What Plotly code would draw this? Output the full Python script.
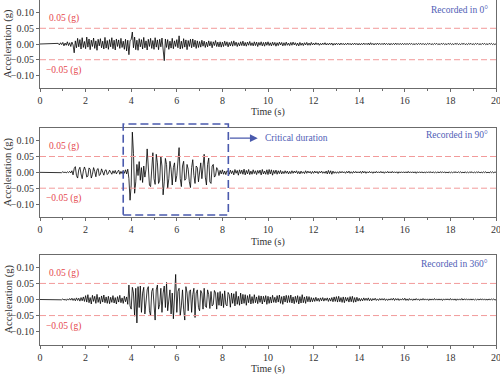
import numpy as np
import plotly.graph_objects as go

# ---------------- data (acceleration in milli-g, sampled every 0.05 s) ----------------
DT = 0.05
acc_0deg_mg = [
    0,0,0,0,0,0,0,0,0,0,0,0,0,0,0,0,2,-3,4,-2,
    5,-6,3,-4,7,-5,4,-8,6,-3,-28,10,-12,18,-9,14,-16,20,-11,8,
    -15,22,-10,16,-18,12,-8,19,-14,10,-20,15,-6,17,-12,9,-16,21,-13,11,
    -17,14,-9,20,-15,12,-19,16,-8,13,-14,18,-11,9,-17,15,-22,12,-34,10,
    15,38,-12,22,-18,12,-20,17,-9,14,-16,21,-12,10,-19,15,-8,18,-14,11,
    -17,20,-10,13,-18,15,-9,19,-12,-53,16,-11,14,-17,9,-13,18,-15,10,-8,
    14,-12,26,-16,9,-14,17,-10,13,-18,11,-8,15,-12,16,-9,12,-14,10,-11,
    8,-10,12,-7,9,-11,6,-9,10,-6,8,-12,7,-5,11,-8,6,-9,7,-10,
    6,-8,9,-5,7,-9,5,-6,8,-7,10,-5,6,-8,4,-6,7,-5,9,-6,
    5,-7,6,-4,8,-5,4,-6,7,-5,6,-8,5,-4,7,-6,5,-7,6,-4,
    7,-5,4,-6,6,-4,5,-7,4,-5,6,-3,5,-6,4,-5,6,-4,3,-5,
    5,-4,6,-3,4,-5,3,-6,5,-4,3,-5,4,-3,5,-4,3,-4,5,-3,
    3,-3,4,-2,3,-4,2,-3,3,-2,4,-3,2,-3,3,-2,3,-4,2,-3,
    3,-2,2,-3,3,-2,2,-3,2,-2,3,-2,2,-3,2,-2,3,-2,2,-3,
    2,-3,2,-2,3,-2,2,-2,3,-3,4,-2,2,-3,2,-2,3,-2,2,-2,
    2,-2,3,-2,2,-2,2,-3,2,-2,2,-2,3,-2,2,-2,2,-2,2,-2,
    2,-2,2,-2,2,-1,2,-2,1,-2,2,-2,2,-1,2,-2,2,-2,1,-2,
    2,-1,2,-2,1,-2,2,-1,2,-2,1,-2,2,-1,2,-2,1,-2,2,-1,
    2,-2,1,-2,2,-1,2,-2,1,-2,2,-1,2,-2,1,-2,2,-1,2,-2,
    1,-2,2,-1,2,-2,1,-2,2,-1,2,-2,1,-2,2,-1,2,-2,1,-2,
    1,
]
acc_90deg_mg = [
    0,0,0,0,0,0,0,0,0,0,0,0,0,0,0,0,0,0,1,-1,
    2,-1,1,-2,2,-1,3,-2,5,-8,12,18,-10,-18,8,16,-5,-20,4,17,
    6,-15,-12,14,10,-18,-6,15,3,-14,9,12,-10,-6,11,2,-9,6,8,-7,
    -3,7,2,-6,5,-3,6,-5,2,7,-6,3,-4,6,-3,8,-5,10,-20,-88,
    -40,127,60,-66,-30,25,-10,34,-25,15,-32,20,-15,10,74,20,-40,-45,30,62,
    -20,-38,57,30,-35,-25,50,20,-71,-30,44,25,-50,-20,35,10,-40,15,30,-30,
    -10,40,78,-20,-45,20,35,-25,-20,25,10,-30,-48,15,40,-10,-35,20,15,-30,
    10,30,-20,15,57,-15,-40,25,45,-30,-35,20,25,-15,-10,15,8,-10,6,-5,
    8,-6,4,-7,5,3,-6,7,-4,5,-8,9,-3,6,-9,8,-4,7,-6,10,
    -8,6,-5,9,-7,4,-6,8,-4,5,-7,6,-3,7,-8,9,-5,4,-6,8,
    -7,9,-5,8,-9,6,-4,7,-6,5,-4,6,-5,3,-4,5,-3,4,-5,3,
    -4,5,-3,4,-2,5,-4,3,-5,4,-3,2,-4,5,-3,4,-2,3,-4,3,
    -3,4,-2,3,-4,3,-2,4,-3,2,-3,4,-5,6,-4,5,-6,4,-3,2,
    -3,2,-3,3,-2,3,-2,2,-3,3,-2,4,-3,2,-3,3,-2,3,-2,2,
    -2,3,-3,4,-2,3,-3,2,-2,3,-2,2,-3,2,-2,3,-2,2,-2,3,
    -2,2,-3,2,-2,3,-2,2,-2,3,-2,2,-2,2,-3,2,-2,2,-2,2,
    -2,2,-2,3,-2,2,-2,2,-2,2,-3,2,-2,2,-2,2,-2,1,-2,2,
    -2,2,-1,2,-2,2,-2,1,-2,2,-2,2,-1,2,-2,2,-2,1,-2,2,
    -2,1,-2,2,-1,2,-2,2,-1,2,-2,1,-2,2,-2,1,-2,2,-1,2,
    -2,1,-2,2,-1,2,-2,1,-2,2,-1,2,-2,1,-2,2,-1,2,-2,1,
    0,
]
acc_360deg_mg = [
    0,0,0,0,0,0,0,0,0,0,0,0,0,0,0,0,0,0,1,-1,
    2,-2,1,-3,2,-2,3,-2,4,-3,3,-4,5,-3,4,-5,6,-4,8,-6,
    12,-8,15,-10,6,-14,13,-6,10,-12,16,-9,7,-13,11,-8,14,-10,8,-12,
    10,-13,7,-9,12,-11,6,-14,9,-8,13,-10,5,-12,10,-7,8,-15,45,-20,
    -30,38,20,-52,35,-73,40,-25,42,-40,20,38,-45,-15,30,40,-35,-50,25,35,
    -20,-64,30,45,-30,-15,35,-40,20,42,-25,53,-35,-10,30,-45,20,-60,15,78,
    -40,25,35,-50,-20,30,-30,-64,40,20,-35,25,30,-40,15,35,-56,20,30,-25,
    -35,28,20,-30,35,-20,-25,30,15,-28,25,-20,-15,28,20,-30,22,-18,25,-20,
    18,-25,27,-15,-20,22,15,-24,20,-12,18,-20,25,-15,10,-18,20,-14,16,-12,
    15,-18,12,-10,16,-14,9,-12,15,-10,8,-13,12,-9,11,-14,10,-8,12,-15,
    10,-12,8,-11,13,-9,7,-10,12,-8,14,-12,9,-15,11,-8,13,-10,12,-9,
    14,-11,8,-13,10,-9,12,-14,9,-11,15,-10,8,-12,10,-7,9,-8,6,-7,
    5,-6,7,-5,4,-6,5,-4,6,-5,4,-3,5,-6,4,-5,6,-7,8,-6,
    9,-8,10,-7,6,-9,8,-10,7,-5,6,-8,9,-7,10,-9,6,-8,7,-5,
    4,-5,3,-4,5,-3,4,-3,5,-4,3,-4,3,-2,4,-3,2,-3,3,-2,
    3,-2,3,-3,2,-3,2,-2,3,-2,4,-3,3,-2,3,-3,2,-2,3,-2,
    4,-3,2,-3,3,-2,2,-3,2,-2,3,-2,2,-3,2,-2,3,-2,2,-2,
    2,-3,2,-2,2,-2,3,-2,2,-2,2,-2,2,-3,2,-2,2,-1,2,-2,
    3,-2,2,-2,2,-3,2,-2,2,-2,3,-2,2,-1,2,-2,2,-2,2,-2,
    2,-2,1,-2,2,-2,2,-1,2,-2,2,-2,1,-2,2,-2,2,-1,2,-2,
    0,
]
panel_labels = ["Recorded in 0°", "Recorded in 90°", "Recorded in 360°"]
threshold_g = 0.05
threshold_labels = ["0.05 (g)", "\u22120.05 (g)"]
critical_window_s = [3.65, 8.26]
x_range = [0, 20]
y_range = [-0.14, 0.14]

# ---------------- styling ----------------
FONT = "Liberation Serif"
AX_COL = "#6b6b6b"
TXT_COL = "#333333"
RED_LINE = "#f29a9a"
RED_TXT = "#e5484d"
BLUE = "#4a5aad"
BLUE_TXT = "#5060b6"

PLOT_H = 346.0  # plotting height in px (374 - margins)
def py(p):  # pixel row -> paper y
    return (PLOT_H - p) / PLOT_H

domains = [[py(88), 1.0], [py(216.7), py(128)], [py(344.5), py(254.5)]]
label_y = [0.108, 0.118, 0.112]
time_title_y = [py(111.5), py(241.5), py(368.5)]

fig = go.Figure()
series = [acc_0deg_mg, acc_90deg_mg, acc_360deg_mg]
shapes = []
annotations = []
for i, vals in enumerate(series):
    n = i + 1
    sfx = "" if n == 1 else str(n)
    xa, ya = "x" + sfx, "y" + sfx
    t = np.arange(len(vals)) * DT
    fig.add_trace(go.Scatter(
        x=t, y=np.array(vals) / 1000.0, mode="lines",
        line=dict(color="black", width=0.8),
        xaxis=xa, yaxis=ya, showlegend=False, hoverinfo="skip"))
    fig.update_layout(**{
        "xaxis" + sfx: dict(
            domain=[0, 1], anchor=ya, range=x_range,
            tickmode="linear", tick0=0, dtick=2, ticklabeloverflow="allow",
            ticks="outside", ticklen=3, tickcolor=AX_COL,
            minor=dict(ticks="outside", ticklen=2, dtick=1, tickcolor=AX_COL),
            showline=True, linecolor=AX_COL, linewidth=1, mirror=True,
            showgrid=False, zeroline=False,
            tickfont=dict(family=FONT, size=10, color=TXT_COL)),
        "yaxis" + sfx: dict(
            domain=domains[i], anchor=xa, range=y_range,
            tickmode="linear", tick0=-0.10, dtick=0.05, tickformat=".2f",
            ticks="outside", ticklen=3, tickcolor=AX_COL,
            showline=True, linecolor=AX_COL, linewidth=1, mirror=True,
            showgrid=False, zeroline=False,
            tickfont=dict(family=FONT, size=10, color=TXT_COL)),
    })
    for yv in (threshold_g, -threshold_g):
        shapes.append(dict(type="line", xref=xa + " domain", yref=ya,
                           x0=0, x1=1, y0=yv, y1=yv,
                           line=dict(color=RED_LINE, width=1, dash="6px,3px")))
    common = dict(showarrow=False, xanchor="center", yanchor="middle")
    annotations.append(dict(xref=xa, yref=ya, x=1.05, y=0.081, text=threshold_labels[0],
                            font=dict(family=FONT, size=9.5, color=RED_TXT), **common))
    annotations.append(dict(xref=xa, yref=ya, x=1.05, y=-0.083, text=threshold_labels[1],
                            font=dict(family=FONT, size=9.5, color=RED_TXT), **common))
    annotations.append(dict(xref=xa, yref=ya, x=19.75, y=label_y[i], text=panel_labels[i],
                            xanchor="right", yanchor="middle", showarrow=False,
                            font=dict(family=FONT, size=9.5, color=BLUE_TXT)))
    annotations.append(dict(xref="paper", yref="paper", x=-0.07,
                            y=(domains[i][0] + domains[i][1]) / 2,
                            text="Acceleration (g)", textangle=-90,
                            font=dict(family=FONT, size=10.5, color=TXT_COL), **common))
    annotations.append(dict(xref="paper", yref="paper", x=0.5, y=time_title_y[i],
                            text="Time (s)",
                            font=dict(family=FONT, size=10, color=TXT_COL), **common))

# critical duration box (panel 2) and arrow
shapes.append(dict(type="rect", xref="paper", yref="paper",
                   x0=critical_window_s[0] / x_range[1], x1=critical_window_s[1] / x_range[1],
                   y0=py(215), y1=py(124),
                   line=dict(color=BLUE, width=1.6, dash="8px,4px")))
annotations.append(dict(xref="x2", yref="y2", axref="x2", ayref="y2",
                        x=9.55, y=0.108, ax=critical_window_s[1], ay=0.108, text="",
                        showarrow=True, arrowhead=2, arrowsize=1.2, arrowwidth=1.3,
                        arrowcolor=BLUE))
annotations.append(dict(xref="x2", yref="y2", x=9.78, y=0.108, text="Critical duration",
                        xanchor="left", yanchor="middle", showarrow=False,
                        font=dict(family=FONT, size=9.5, color=BLUE_TXT)))

fig.update_layout(
    width=500, height=374,
    margin=dict(l=40, r=4, t=0, b=28, autoexpand=False),
    paper_bgcolor="white", plot_bgcolor="white",
    shapes=shapes, annotations=annotations,
    font=dict(family=FONT),
)
fig.write_html("out.html", config={"displayModeBar": False},
               post_script="document.body.style.margin='0px';document.body.style.padding='0px';")
